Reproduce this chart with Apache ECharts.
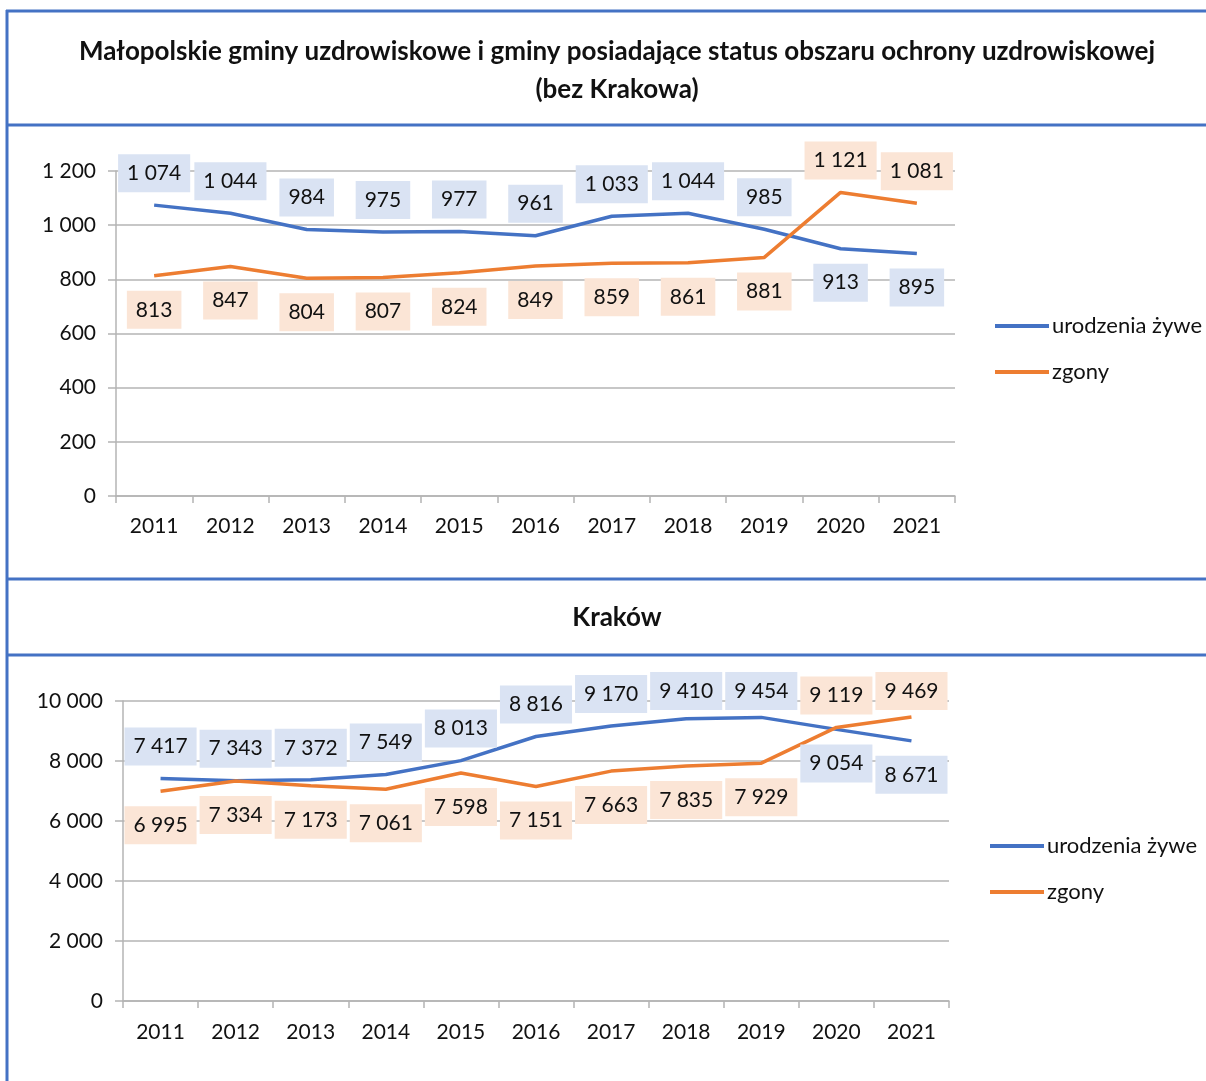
<!DOCTYPE html>
<html>
<head>
<meta charset="utf-8">
<script src="https://cdn.jsdelivr.net/npm/echarts@6/dist/echarts.min.js"></script>
<style>
  html, body { margin: 0; padding: 0; background: #fff; }
  #chart { width: 1206px; height: 1081px; }
</style>
</head>
<body>
<div id="chart"></div>
<script>
// lata
const years = ['2011', '2012', '2013', '2014', '2015', '2016', '2017', '2018', '2019', '2020', '2021'];
// gminy uzdrowiskowe (bez Krakowa)
const spaBirths = [1074, 1044, 984, 975, 977, 961, 1033, 1044, 985, 913, 895];
const spaDeaths = [813, 847, 804, 807, 824, 849, 859, 861, 881, 1121, 1081];
// Kraków
const krkBirths = [7417, 7343, 7372, 7549, 8013, 8816, 9170, 9410, 9454, 9054, 8671];
const krkDeaths = [6995, 7334, 7173, 7061, 7598, 7151, 7663, 7835, 7929, 9119, 9469];

const seriesNames = ['urodzenia żywe', 'zgony'];

const FONT = 'Lato';
const BLUE = '#4472c4';
const ORANGE = '#ed7d31';
const GRIDC = '#b4b4b4';

const fmt = (v) => String(v).replace(/\B(?=(\d{3})+(?!\d))/g, ' ');

// etykieta wyzszej serii idzie nad punkt, nizszej pod punkt
const withLabels = (vals, other, bg) =>
  vals.map((v, i) => {
    const up = v >= other[i];
    return {
      value: v,
      label: {
        position: up ? 'top' : 'bottom',
        distance: up ? 13 : 15,
        backgroundColor: bg,
      },
    };
  });

// etykiety nie wychodza ponad obszar wykresu (jak w Excelu)
const clampTop = (minY) => (params) => ({
  dy: Math.max(0, minY - params.labelRect.y),
});

const lineSeries = (name, idx, vals, other, color, bg, minY) => ({
  name,
  type: 'line',
  xAxisIndex: idx,
  yAxisIndex: idx,
  data: withLabels(vals, other, bg),
  symbol: 'circle',
  symbolSize: 0,
  showSymbol: true,
  smooth: false,
  lineStyle: { color, width: 3.5 },
  itemStyle: { color },
  label: {
    show: true,
    formatter: (p) => fmt(p.value),
    color: '#111',
    fontFamily: FONT,
    fontSize: 21,
    lineHeight: 20,
    padding: [9, 9],
  },
  labelLayout: clampTop(minY),
  z: 3,
});

const xAxis = (idx, margin) => ({
  type: 'category',
  gridIndex: idx,
  data: years,
  boundaryGap: true,
  axisLine: { lineStyle: { color: GRIDC, width: 1.5 } },
  axisTick: { show: true, length: 7, lineStyle: { color: GRIDC, width: 1.5 } },
  axisLabel: { color: '#111', fontFamily: FONT, fontSize: 21, margin, interval: 0 },
});

const yAxis = (idx, max, interval) => ({
  type: 'value',
  gridIndex: idx,
  min: 0,
  max,
  interval,
  axisLine: { show: true, lineStyle: { color: GRIDC, width: 1.5 } },
  axisTick: { show: true, length: 8, lineStyle: { color: GRIDC, width: 1.5 } },
  splitLine: { show: true, lineStyle: { color: GRIDC, width: 1.5 } },
  axisLabel: { color: '#111', fontFamily: FONT, fontSize: 21, margin: 20, formatter: fmt },
});

const legend = (left, top) => ({
  data: seriesNames,
  orient: 'vertical',
  left,
  top,
  itemWidth: 54,
  itemHeight: 4,
  itemGap: 24,
  icon: 'rect',
  selectedMode: false,
  textStyle: { color: '#111', fontFamily: FONT, fontSize: 22, padding: [0, 0, 0, -2] },
});

const border = (x1, y1, x2, y2) => ({
  type: 'line',
  shape: { x1, y1, x2, y2 },
  style: { stroke: BLUE, lineWidth: 3 },
  silent: true,
});

const chart = echarts.init(document.getElementById('chart'));
chart.setOption({
  backgroundColor: '#fff',
  animation: false,
  title: [
    {
      text: 'Małopolskie gminy uzdrowiskowe i gminy posiadające status obszaru ochrony uzdrowiskowej\n(bez Krakowa)',
      left: 612,
      top: 28,
      textAlign: 'center',
      textStyle: { fontFamily: FONT, fontWeight: 'bold', fontSize: 26, lineHeight: 38, color: '#111' },
    },
    {
      text: 'Kraków',
      left: 612,
      top: 600,
      textAlign: 'center',
      textStyle: { fontFamily: FONT, fontWeight: 'bold', fontSize: 26, color: '#111' },
    },
  ],
  legend: [legend(990, 310), legend(985, 830)],
  grid: [
    { left: 116, right: 251, top: 171, height: 325, containLabel: false },
    { left: 123, right: 257, top: 701, height: 300, containLabel: false },
  ],
  xAxis: [xAxis(0, 20), xAxis(1, 21)],
  yAxis: [yAxis(0, 1200, 200), yAxis(1, 10000, 2000)],
  series: [
    lineSeries(seriesNames[0], 0, spaBirths, spaDeaths, BLUE, '#dae3f3', 141),
    lineSeries(seriesNames[1], 0, spaDeaths, spaBirths, ORANGE, '#fbe5d6', 141),
    lineSeries(seriesNames[0], 1, krkBirths, krkDeaths, BLUE, '#dae3f3', 672),
    lineSeries(seriesNames[1], 1, krkDeaths, krkBirths, ORANGE, '#fbe5d6', 672),
  ],
  graphic: [
    border(6, 11, 1206, 11),
    border(7, 10, 7, 1081),
    border(6, 125, 1206, 125),
    border(6, 579, 1206, 579),
    border(6, 655, 1206, 655),
  ],
});
</script>
</body>
</html>
